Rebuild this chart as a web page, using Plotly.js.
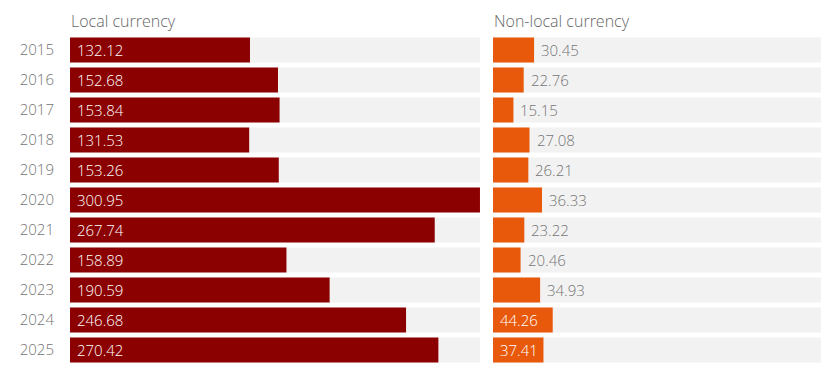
<!DOCTYPE html>
<html><head><meta charset="utf-8">
<script src="https://cdn.plot.ly/plotly-3.0.1.min.js"></script>
<style>body{margin:0;padding:0;background:#fff}#c{width:821px;height:384px}</style>
</head><body><div id="c"></div>
<script>
const years = ['2015','2016','2017','2018','2019','2020','2021','2022','2023','2024','2025'];
const localVals = [132.12,152.68,153.84,131.53,153.26,300.95,267.74,158.89,190.59,246.68,270.42];
const nonLocalVals = [30.45,22.76,15.15,27.08,26.21,36.33,23.22,20.46,34.93,44.26,37.41];
const titles = ['Local currency','Non-local currency'];

const FONT = 'Open Sans, sans-serif';
const W = 300;
const leftMax = Math.max(...localVals);
const rightMax = 243;
const insideMin = 37; // non-local labels go inside bar when bar is at least this long

const traces = [
  {type:'bar', orientation:'h', y:years, x:years.map(()=>leftMax), xaxis:'x', yaxis:'y',
   marker:{color:'#f2f2f2'}, hoverinfo:'skip', showlegend:false},
  {type:'bar', orientation:'h', y:years, x:years.map(()=>rightMax), xaxis:'x2', yaxis:'y',
   marker:{color:'#f2f2f2'}, hoverinfo:'skip', showlegend:false},
  {type:'bar', orientation:'h', y:years, x:localVals, xaxis:'x', yaxis:'y',
   marker:{color:'#8b0000'}, showlegend:false},
  {type:'bar', orientation:'h', y:years, x:nonLocalVals, xaxis:'x2', yaxis:'y',
   marker:{color:'#e8590c'}, showlegend:false}
];

const ann = [];
years.forEach((yr,i)=>{
  ann.push({xref:'x', yref:'y', x:0, y:i, text:localVals[i].toFixed(2), showarrow:false,
    xanchor:'left', xshift:5, font:{family:FONT, size:15, weight:W, color:'#ffffff'}});
  const v = nonLocalVals[i];
  const inside = v >= insideMin;
  ann.push({xref:'x2', yref:'y', x: inside?0:v, y:i, text:v.toFixed(2), showarrow:false,
    xanchor:'left', xshift:5, font:{family:FONT, size:15, weight:W, color: inside?'#ffffff':'#757575'}});
});
ann.push({xref:'x domain', yref:'paper', x:0, y:1, yshift:1, yanchor:'bottom', xanchor:'left', xshift:-1,
  text:titles[0], showarrow:false, font:{family:FONT, size:16, weight:W, color:'#666666'}});
ann.push({xref:'x2 domain', yref:'paper', x:0, y:1, yshift:1, yanchor:'bottom', xanchor:'left', xshift:-1,
  text:titles[1], showarrow:false, font:{family:FONT, size:16, weight:W, color:'#666666'}});

const layout = {
  width:821, height:384,
  margin:{l:70, r:0, t:35, b:19},
  paper_bgcolor:'#fff', plot_bgcolor:'#fff',
  barmode:'overlay', bargap:0.167,
  showlegend:false,
  xaxis:{domain:[0,0.5459], range:[0,leftMax], showgrid:false, zeroline:false, showticklabels:false, fixedrange:true, anchor:'y'},
  xaxis2:{domain:[0.5632,1], range:[0,rightMax], showgrid:false, zeroline:false, showticklabels:false, fixedrange:true, anchor:'y'},
  yaxis:{type:'category', autorange:'reversed', showgrid:false, zeroline:false, ticks:'',
    ticklabelstandoff:15, tickfont:{family:FONT, size:15, weight:W, color:'#757575'}},
  annotations:ann,
  font:{family:FONT}
};
Plotly.newPlot('c', traces, layout, {displayModeBar:false, staticPlot:true});
</script></body></html>
